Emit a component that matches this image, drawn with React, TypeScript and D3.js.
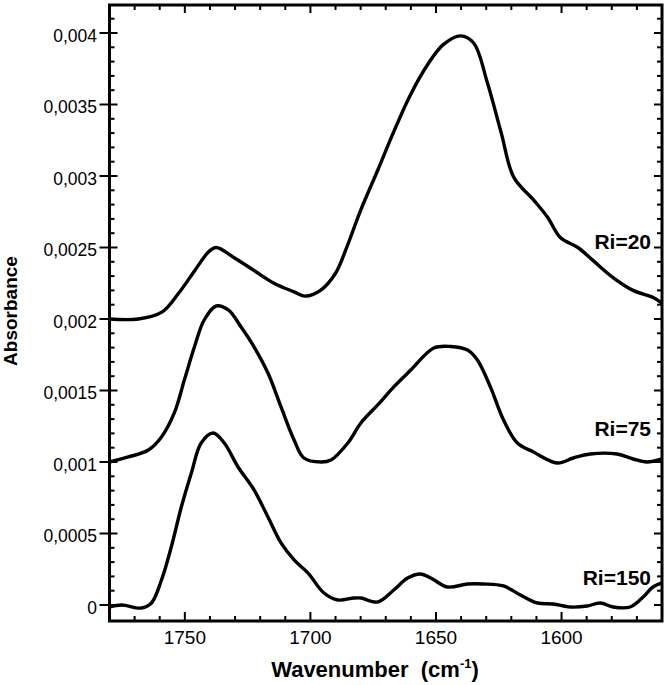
import React from "react";
import * as d3 from "d3";

const wn20 = [1780,1768.5,1759,1752.5,1746,1740.5,1737.5,1730.5,1722.5,1714.5,1706.5,1702,1696,1690,1686,1680,1673.2,1666.8,1660.1,1653.3,1647,1640.2,1635,1629.5,1624,1619,1611,1605.5,1600.5,1593.5,1587.5,1579.5,1571.5,1563.5,1560];
const ab20 = [0.002,0.002,0.00205,0.00218,0.00234,0.00247,0.0025,0.00243,0.00234,0.00225,0.00219,0.00216,0.0022,0.00232,0.00248,0.00276,0.00304,0.00331,0.00357,0.00378,0.00392,0.00398,0.00393,0.00365,0.0033,0.00299,0.00283,0.00271,0.00257,0.0025,0.00241,0.00229,0.0022,0.00215,0.00211];

const wn75 = [1780,1772.5,1764.5,1759.3,1754.2,1750.2,1746.2,1742.3,1737.5,1732.7,1727.6,1722.4,1716.9,1711.7,1706.5,1702.6,1695.8,1691.8,1685.1,1679.9,1673.2,1666.8,1660,1650.9,1644.2,1637.4,1633.5,1628.3,1623.1,1617.6,1611.2,1601.7,1595.3,1588.6,1577.9,1571.5,1566,1560];
const ab75 = [0.001,0.001035,0.001084,0.001175,0.001343,0.001573,0.001804,0.001993,0.002091,0.002063,0.001944,0.001804,0.001622,0.001385,0.001154,0.001028,0.001,0.001014,0.001133,0.001273,0.001399,0.001525,0.001643,0.001797,0.001808,0.001783,0.001713,0.001524,0.001294,0.001133,0.00107,0.000993,0.001028,0.001056,0.001056,0.001021,0.001,0.001021];

const wn150 = [1780,1775.2,1767.3,1763.3,1759.3,1755.4,1751.4,1747.4,1743.5,1738.7,1734.3,1728.8,1722.4,1716.9,1711.7,1706.5,1701,1694.6,1689.1,1682.7,1679.9,1673.2,1666.8,1661.3,1656.1,1652.1,1645.4,1637.4,1631.1,1623.1,1616.4,1609.6,1603.3,1596.5,1589.8,1584.6,1579.4,1572.7,1567.5,1563.6,1560];
const ab150 = [-0.000014,0,-0.000021,0.000014,0.000175,0.000406,0.000685,0.000923,0.001133,0.001203,0.001133,0.000965,0.000804,0.000615,0.000434,0.000315,0.000224,0.000084,0.000035,0.000049,0.000049,0.000021,0.000105,0.000189,0.000217,0.000189,0.000126,0.000147,0.000147,0.000133,0.00007,0.000014,0.000007,-0.000014,-0.000007,0.000014,-0.000014,-0.000014,0.000056,0.000126,0.000154];

const seriesLabels = ["Ri=20", "Ri=75", "Ri=150"];
const labelValues = [0.00249, 0.00118, 0.00014];

const xMajorTicks = [1750, 1700, 1650, 1600];
const xTickLabels = ["1750", "1700", "1650", "1600"];
const yMajorTicks = [0, 0.0005, 0.001, 0.0015, 0.002, 0.0025, 0.003, 0.0035, 0.004];
const yTickLabels = ["0", "0,0005", "0,001", "0,0015", "0,002", "0,0025", "0,003", "0,0035", "0,004"];

const W = 669, H = 685;
const left = 109.5, right = 662, top = 5, bottom = 621;
const font = "'Liberation Sans', Arial, Helvetica, sans-serif";

export default function App() {
  const x = d3.scaleLinear().domain([1780, 1560]).range([left, right]);
  const y = d3.scaleLinear().domain([0, 0.004]).range([605, 33]);
  const line = d3.line<[number, number]>()
    .x(d => x(d[0]))
    .y(d => y(d[1]))
    .curve(d3.curveCatmullRom.alpha(0.5));

  const series = [
    wn20.map((w, i) => [w, ab20[i]] as [number, number]),
    wn75.map((w, i) => [w, ab75[i]] as [number, number]),
    wn150.map((w, i) => [w, ab150[i]] as [number, number]),
  ];

  const xMinor = d3.range(1570, 1781, 10).filter(v => !xMajorTicks.includes(v));
  const yMinor = d3.range(-1, 43).map(i => i * 0.0001).filter(v => y(v) > top + 2 && y(v) < bottom - 2 && Math.abs(Math.round(v / 0.0005) * 0.0005 - v) > 1e-9);

  return (
    <svg width={W} height={H} style={{ position: "absolute", left: 0, top: 0, background: "#fff" }}>
      <defs>
        <clipPath id="plot">
          <rect x={left} y={top} width={right - left} height={bottom - top} />
        </clipPath>
      </defs>
      <g clipPath="url(#plot)">
        {series.map((s, i) => (
          <path key={i} d={line(s) || ""} fill="none" stroke="#000" strokeWidth={3.4} strokeLinejoin="round" strokeLinecap="round" />
        ))}
      </g>
      <rect x={left} y={top} width={right - left} height={bottom - top} fill="none" stroke="#000" strokeWidth={3} />
      {xMajorTicks.map(v => (
        <g key={"xm" + v}>
          <line x1={x(v)} x2={x(v)} y1={bottom} y2={bottom - 9} stroke="#000" strokeWidth={2} />
          <line x1={x(v)} x2={x(v)} y1={top} y2={top + 8} stroke="#000" strokeWidth={2} />
        </g>
      ))}
      {xMinor.map(v => (
        <g key={"xn" + v}>
          <line x1={x(v)} x2={x(v)} y1={bottom} y2={bottom - 5} stroke="#000" strokeWidth={2} />
          <line x1={x(v)} x2={x(v)} y1={top} y2={top + 5} stroke="#000" strokeWidth={2} />
        </g>
      ))}
      {yMajorTicks.map(v => (
        <g key={"ym" + v}>
          <line x1={left - 10} x2={left + 8} y1={y(v)} y2={y(v)} stroke="#000" strokeWidth={2} />
          <line x1={right} x2={right - 8} y1={y(v)} y2={y(v)} stroke="#000" strokeWidth={2} />
        </g>
      ))}
      {yMinor.map((v, i) => (
        <g key={"yn" + i}>
          <line x1={left} x2={left + 5} y1={y(v)} y2={y(v)} stroke="#000" strokeWidth={2} />
          <line x1={right} x2={right - 5} y1={y(v)} y2={y(v)} stroke="#000" strokeWidth={2} />
        </g>
      ))}
      {yMajorTicks.map((v, i) => (
        <text key={"yl" + v} x={97} y={y(v) + 8.5} textAnchor="end" fontFamily={font} fontSize={17.5} fill="#000">{yTickLabels[i]}</text>
      ))}
      {xMajorTicks.map((v, i) => (
        <text key={"xl" + v} x={x(v)} y={644} textAnchor="middle" fontFamily={font} fontSize={19} fill="#000">{xTickLabels[i]}</text>
      ))}
      {seriesLabels.map((s, i) => (
        <text key={s} x={651} y={y(labelValues[i])} textAnchor="end" fontFamily={font} fontSize={21} fontWeight="bold" fill="#000">{s}</text>
      ))}
      <text x={375} y={677} textAnchor="middle" fontFamily={font} fontSize={22} fontWeight="bold" fill="#000">
        Wavenumber{"\u00a0\u00a0"}(cm<tspan fontSize={13} dy={-9}>-1</tspan><tspan dy={9}>)</tspan>
      </text>
      <text transform="translate(17,311) rotate(-90)" textAnchor="middle" fontFamily={font} fontSize={19} fontWeight="bold" fill="#000">Absorbance</text>
    </svg>
  );
}
